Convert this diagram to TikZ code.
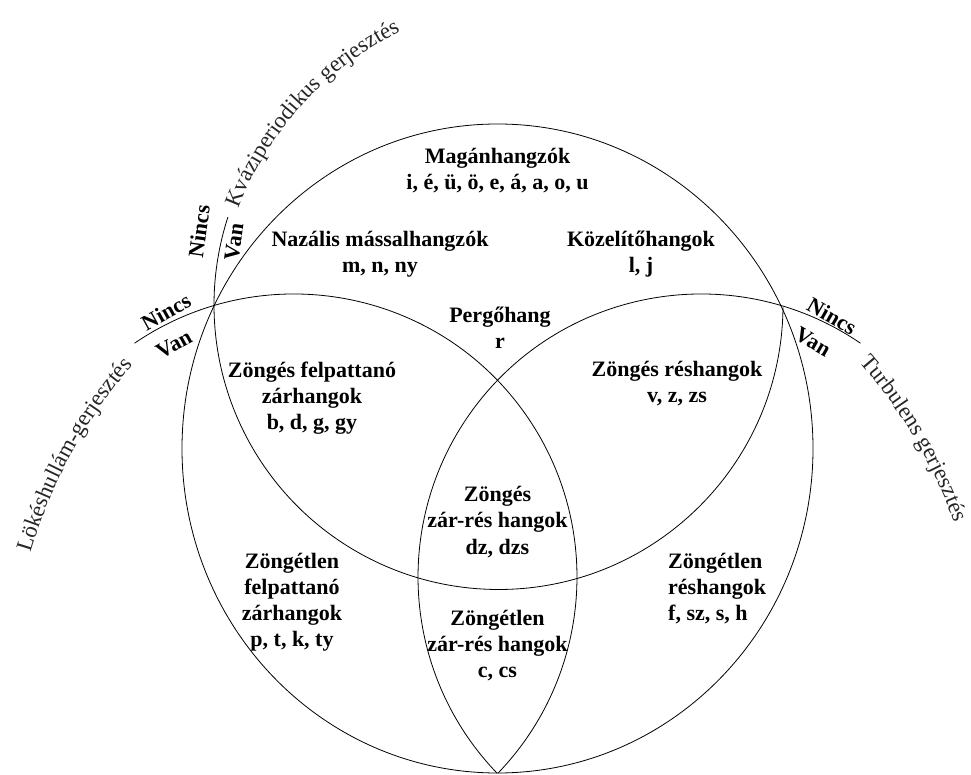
\documentclass[tikz,border=0pt]{standalone}
\usepackage{fontspec}
\setmainfont{Liberation Serif}
\usetikzlibrary{decorations.text}
\newcommand{\mlines}[2][c]{\begin{tabular}[t]{@{}#1@{}}#2\end{tabular}}
\newcommand{\crvfont}{\fontsize{22.7}{27}\selectfont}
\begin{document}
\begin{tikzpicture}[x=1pt,y=1pt,
  curve/.style={draw=black, line width=0.8pt},
  region/.style={font=\fontsize{22}{26}\selectfont\bfseries, inner sep=0pt, anchor=base, text=black},
  tick/.style={font=\fontsize{22}{26}\selectfont\bfseries, inner sep=0pt, text=black},
  along/.style={decorate, decoration={text along path, text color=black!85, text align=left, text={#1}}}]
\useasboundingbox (0,0) rectangle (971,774);
\fill[white] (0,0) rectangle (971,774);

% centres
\coordinate (cP) at (497.5,325.5);
\coordinate (cQ) at (498.5,469);
\coordinate (cS) at (294,197);
\coordinate (cT) at (701,197);

% outer boundary
\draw[curve] (cP) ellipse [x radius=315.5, y radius=324.5];
% quasi-periodic boundary (lower half + tick)
\draw[curve] (cQ) ++(-0.5:284.5) arc[start angle=-0.5, end angle=-198, radius=284.5];
% shock-wave boundary
\draw[curve] (cS) ++(124.3:283) arc[start angle=124.3, end angle=-43.9, radius=283];
% turbulent boundary
\draw[curve] (cT) ++(55.7:283) arc[start angle=55.7, end angle=223.9, radius=283];

% curved titles
\path[along={|\crvfont|Kváziperiodikus gerjesztés}] (545,448) ++(159:328) arc[start angle=159, end angle=95, radius=328];
\path[along={|\crvfont|Lökéshullám-gerjesztés}] (523,74.3) ++(163.4:514) arc[start angle=163.4, end angle=125, radius=514];
\path[along={|\crvfont|Turbulens gerjesztés}] (472,74.3) ++(41.03:514) arc[start angle=41.03, end angle=5, radius=514];

% tick labels
\node[tick, rotate=82] (qn) at (199,543) {Nincs};
\node[tick, rotate=82] (qv) at (234,532) {Van};
\node[tick, rotate=29] (sn) at (166,462) {Nincs};
\node[tick, rotate=29] (sv) at (174,430) {Van};
\node[tick, rotate=-30] (tn) at (832,458) {Nincs};
\node[tick, rotate=-30] (tv) at (813,432) {Van};

% region labels
\node[region] (mag) at (497.5,610) {\mlines{Magánhangzók\\i, é, ü, ö, e, á, a, o, u}};
\node[region] (naz) at (380,527) {\mlines{Nazális mássalhangzók\\m, n, ny}};
\node[region] (koz) at (641,527) {\mlines{Közelítőhangok\\l, j}};
\node[region] (perg) at (500,451) {\mlines{Pergőhang\\r}};
\node[region] (zfz) at (312,396) {\mlines{Zöngés felpattanó\\zárhangok\\b, d, g, gy}};
\node[region] (zr) at (677,397) {\mlines{Zöngés réshangok\\v, z, zs}};
\node[region] (zzr) at (497.5,272) {\mlines{Zöngés\\zár-rés hangok\\dz, dzs}};
\node[region] (ztzr) at (497.5,149) {\mlines{Zöngétlen\\zár-rés hangok\\c, cs}};
\node[region] (ztf) at (292,206) {\mlines{Zöngétlen\\felpattanó\\zárhangok\\p, t, k, ty}};
\node[region, anchor=base west] (ztr) at (668,206) {\mlines[l]{Zöngétlen\\réshangok\\f, sz, s, h}};
\end{tikzpicture}
\end{document}
